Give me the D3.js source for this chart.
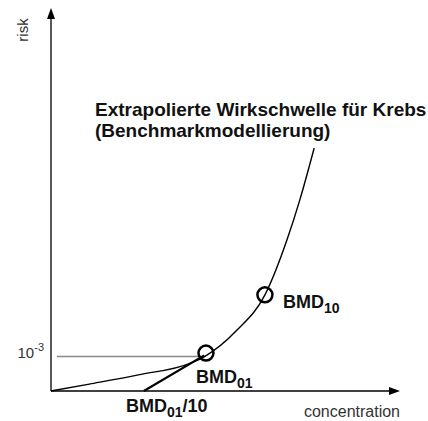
<!DOCTYPE html>
<html>
<head>
<meta charset="utf-8">
<script src="https://cdn.jsdelivr.net/npm/d3@7"></script>
<style>
  body { margin: 0; background: #fff; }
  text { font-family: "Liberation Sans", Arial, sans-serif; }
</style>
</head>
<body>
<script>
// dose-response curve (concentration, risk) in arbitrary units 0..100
var curveConc = [0, 11, 25, 40, 44, 53.3, 61.3, 67.6, 71.3, 75.4];
var curveRisk = [0, 1.8, 4.2, 7.3, 9.0, 15.9, 25.1, 39.4, 49.9, 63.4];

var bmdNames = ["BMD", "BMD"];
var bmdSubs = ["01", "10"];
var bmdConc = [44.4, 61.3];
var bmdRisk = [9.9, 25.1];

var riskLevel = 9;         // 10^-3 line
var extrapStart = 26.6;    // BMD01/10 on the concentration axis

var title = ["Extrapolierte Wirkschwelle für Krebs", "(Benchmarkmodellierung)"];

var width = 428, height = 421;

var x = d3.scaleLinear().domain([0, 100]).range([51, 400]);
var y = d3.scaleLinear().domain([0, 100]).range([391, 8]);

var svg = d3.select("body").append("svg")
    .attr("width", width)
    .attr("height", height);

// axes with arrow heads
svg.append("line")
    .attr("x1", x(0)).attr("y1", y(0))
    .attr("x2", x(0)).attr("y2", y(100) + 6)
    .attr("stroke", "#000").attr("stroke-width", 1.3);
svg.append("path")
    .attr("d", "M" + x(0) + "," + y(100) + "l-4,11l8,0z")
    .attr("fill", "#000");
svg.append("line")
    .attr("x1", x(0)).attr("y1", y(0))
    .attr("x2", x(100) - 6).attr("y2", y(0))
    .attr("stroke", "#000").attr("stroke-width", 1.3);
svg.append("path")
    .attr("d", "M" + x(100) + "," + y(0) + "l-11,-4l0,8z")
    .attr("fill", "#000");

// 10^-3 level line
svg.append("line")
    .attr("x1", x(1.7)).attr("x2", x(43))
    .attr("y1", y(riskLevel)).attr("y2", y(riskLevel))
    .attr("stroke", "#888").attr("stroke-width", 1.5);

// linear extrapolation
svg.append("line")
    .attr("x1", x(extrapStart)).attr("y1", y(0))
    .attr("x2", x(bmdConc[0] - 0.5)).attr("y2", y(riskLevel + 0.3))
    .attr("stroke", "#000").attr("stroke-width", 2.2);

// dose-response curve
var pts = curveConc.map(function(c, i) { return [c, curveRisk[i]]; });
var line = d3.line()
    .x(function(d) { return x(d[0]); })
    .y(function(d) { return y(d[1]); })
    .curve(d3.curveMonotoneX);
svg.append("path")
    .datum(pts)
    .attr("d", line)
    .attr("fill", "none")
    .attr("stroke", "#000")
    .attr("stroke-width", 1.4);

// BMD circles
svg.selectAll(".bmd")
    .data(bmdConc)
    .enter().append("circle")
    .attr("class", "bmd")
    .attr("cx", function(d) { return x(d); })
    .attr("cy", function(d, i) { return y(bmdRisk[i]); })
    .attr("r", 7.5)
    .attr("fill", "none")
    .attr("stroke", "#000")
    .attr("stroke-width", 2.5);

// labels
function subLabel(px, py, main, sub, tail) {
    var t = svg.append("text")
        .attr("x", px).attr("y", py)
        .attr("font-size", 18).attr("font-weight", "bold")
        .attr("fill", "#111");
    t.append("tspan").text(main);
    t.append("tspan").attr("dy", 5).attr("font-size", 14).text(sub);
    if (tail) t.append("tspan").attr("dy", -5).text(tail);
}
subLabel(283, 308, bmdNames[1], bmdSubs[1]);
subLabel(196, 383, bmdNames[0], bmdSubs[0]);
subLabel(126, 412, bmdNames[0], bmdSubs[0], "/10");

svg.selectAll(".title")
    .data(title)
    .enter().append("text")
    .attr("class", "title")
    .attr("x", 95)
    .attr("y", function(d, i) { return 116 + i * 21; })
    .attr("font-size", 19)
    .attr("font-weight", "bold")
    .attr("fill", "#111")
    .text(function(d) { return d; });

var tick = svg.append("text")
    .attr("x", 44).attr("y", y(riskLevel) + 1)
    .attr("text-anchor", "end")
    .attr("font-size", 15)
    .attr("fill", "#333");
tick.append("tspan").text("10");
tick.append("tspan").attr("dy", -7).attr("font-size", 11).text("-3");

svg.append("text")
    .attr("transform", "translate(28,30) rotate(-90)")
    .attr("text-anchor", "middle")
    .attr("font-size", 15)
    .attr("fill", "#333")
    .text("risk");

svg.append("text")
    .attr("x", 400).attr("y", 417)
    .attr("text-anchor", "end")
    .attr("font-size", 16)
    .attr("fill", "#333")
    .text("concentration");
</script>
</body>
</html>
